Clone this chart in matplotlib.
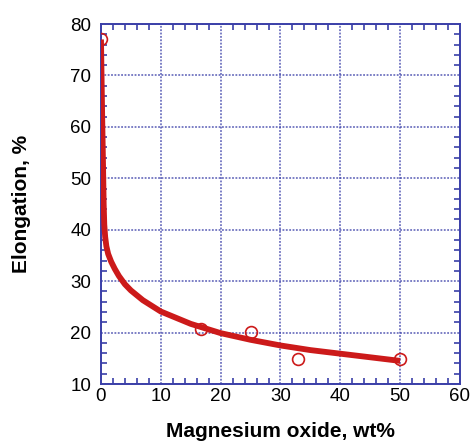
import matplotlib
matplotlib.use('Agg')
import matplotlib.pyplot as plt
from matplotlib.ticker import MultipleLocator

# measured elongation vs MgO content
mgo_pts  = [0, 16.7, 25, 33, 50]
elong_pts = [77, 20.7, 20.1, 14.8, 14.9]

# fitted trend curve
fit_x = [0, 0.2, 0.35, 0.45, 0.55, 0.7, 0.9, 1.2, 1.7, 2.3, 3.0, 4.0, 5.0, 7.0, 10, 15, 20, 25, 30, 35, 40, 45, 50]
fit_y = [77, 62, 52, 45, 41, 38.6, 36.8, 35.3, 33.8, 32.4, 31.0, 29.4, 28.2, 26.3, 24.1, 21.7, 19.9, 18.6, 17.5, 16.6, 15.9, 15.2, 14.5]

RED  = '#cc1a1a'
BLUE = '#3a3fa8'

plt.rcParams['font.family'] = ['Liberation Sans', 'DejaVu Sans']

fig = plt.figure(figsize=(4.71, 4.45), dpi=100)
ax = fig.add_axes([0.2144, 0.137, 0.7622, 0.809])

ax.plot(fit_x, fit_y, '-', color=RED, lw=4.2, solid_capstyle='butt',
        solid_joinstyle='round', zorder=3)
ax.plot(mgo_pts, elong_pts, 'o', mfc='none', mec=RED, mew=1.2, ms=8.5, zorder=4)

ax.set_xlim(0, 60)
ax.set_ylim(10, 80)
ax.xaxis.set_major_locator(MultipleLocator(10))
ax.xaxis.set_minor_locator(MultipleLocator(2))
ax.yaxis.set_major_locator(MultipleLocator(10))
ax.yaxis.set_minor_locator(MultipleLocator(2))

ax.grid(True, which='major', color=BLUE, ls=(0, (1.2, 1.0)), lw=1.1, alpha=0.85)
for s in ax.spines.values():
    s.set_color(BLUE)
    s.set_linewidth(1.4)
ax.tick_params(which='both', direction='in', top=True, right=True, color=BLUE,
               labelsize=13.5)
ax.tick_params(axis='y', pad=7)
ax.tick_params(axis='x', pad=3)
ax.tick_params(which='major', length=0, width=1.2)
ax.tick_params(which='minor', length=4, width=1.2)

ax.set_xlabel('Magnesium oxide, wt%', fontsize=15, fontweight='bold', labelpad=12)
ax.set_ylabel('Elongation, %', fontsize=15, fontweight='bold', labelpad=28)

fig.savefig('out.png', dpi=100)
